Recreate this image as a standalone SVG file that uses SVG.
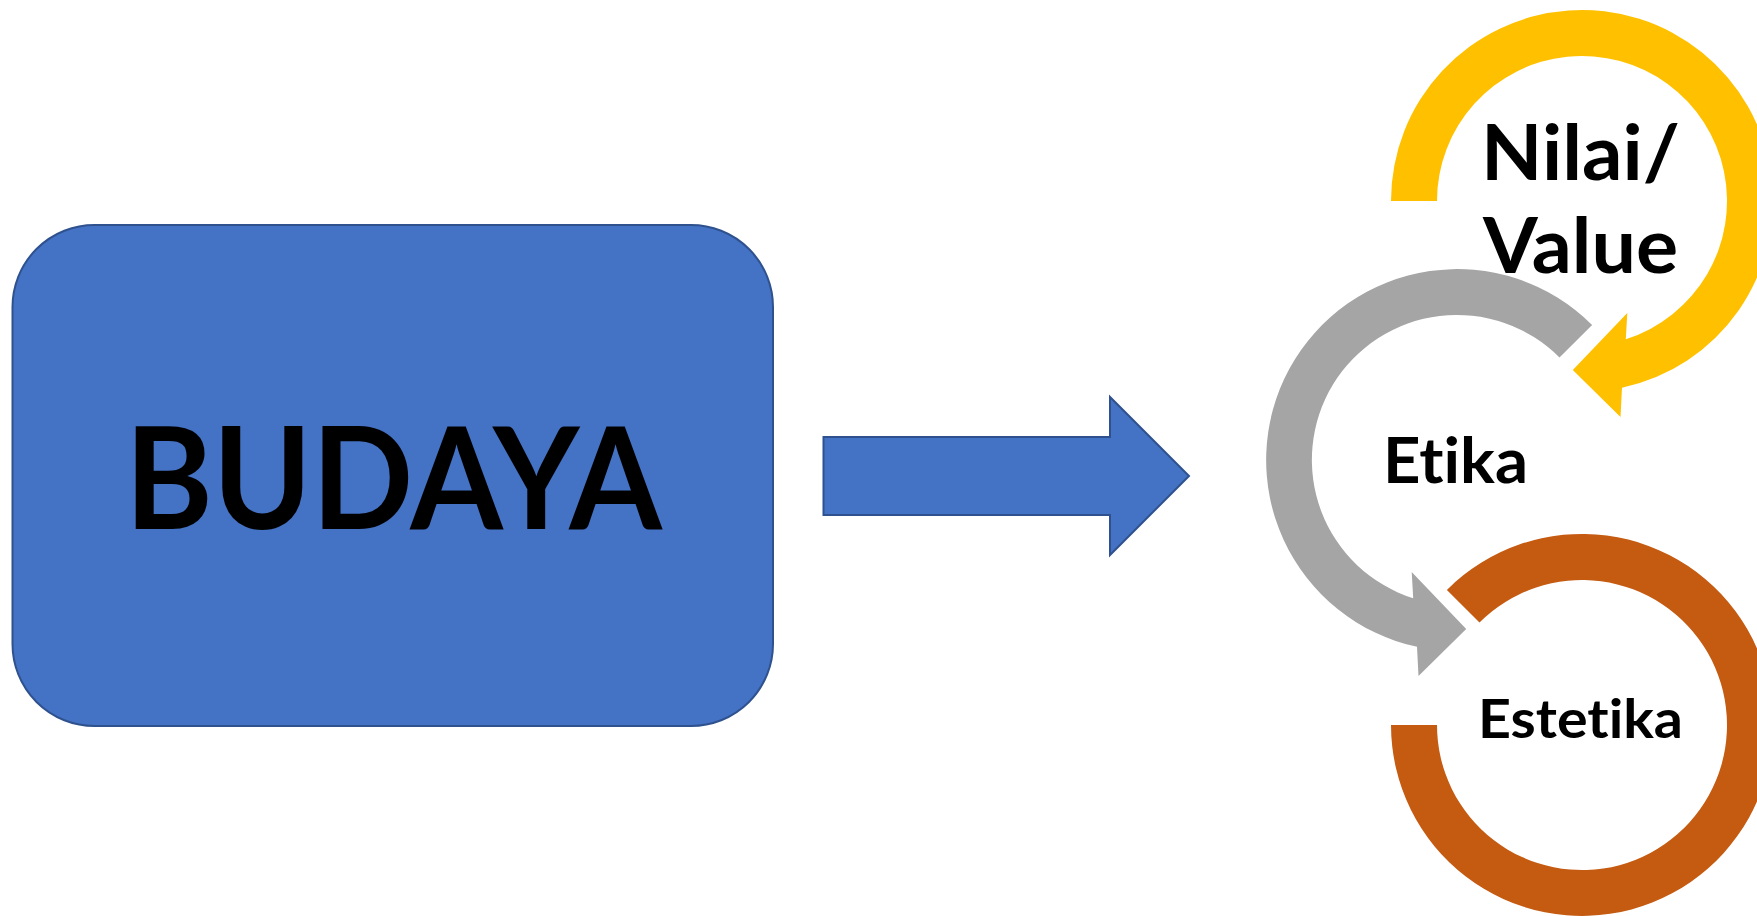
<svg xmlns="http://www.w3.org/2000/svg" width="1757" height="916" viewBox="0 0 1757 916">
<style>
.lbl{font-family:Lato,"Open Sans","Liberation Sans",sans-serif;font-weight:700;fill:#000;font-variant-ligatures:none;font-feature-settings:"liga" 0,"clig" 0}
.blue{fill:#4472C4;stroke:#2F528F;stroke-width:2}
</style>
<rect width="1757" height="916" fill="#fff"/>
<g id="budaya">
<rect class="blue" x="12.5" y="225" width="760.5" height="501" rx="82" ry="82"/>
<text class="lbl" x="125" y="529" font-size="141" textLength="537" lengthAdjust="spacingAndGlyphs">BUDAYA</text>
</g>
<g id="connectors">
<path class="blue" d="M823.5 437 L1110 437 L1110 397 L1189 476 L1110 555 L1110 515 L823.5 515 Z"/>
</g>
<g id="nilai">
<path fill="#FFC000" d="M1391 201 A191 191 0 1 1 1622 387.8 L1620.5 417 L1572.8 370 L1627.3 313 L1625.8 339.2 A145 145 0 1 0 1437 201 Z"/>
<text class="lbl" x="1481" y="180" font-size="77" textLength="199" lengthAdjust="spacingAndGlyphs">Nilai/</text>
<text class="lbl" x="1483" y="273" font-size="77" textLength="195" lengthAdjust="spacingAndGlyphs">Value</text>
</g>
<g id="etika">
<path fill="#A5A5A5" d="M1592.1 324.9 A191 191 0 1 0 1417 646.8 L1418.5 676 L1466.2 629 L1411.7 572 L1413.2 598.2 A145 145 0 1 1 1559.5 357.5 Z"/>
<text class="lbl" x="1383" y="483" font-size="63" textLength="145" lengthAdjust="spacingAndGlyphs">Etika</text>
</g>
<g id="estetika">
<path fill="#C55A11" d="M1446.9 589.9 A191 191 0 1 1 1391 725 L1437 725 A145 145 0 1 0 1479.5 622.5 Z"/>
<text class="lbl" x="1478" y="738" font-size="54" textLength="205" lengthAdjust="spacingAndGlyphs">Estetika</text>
</g>
</svg>
